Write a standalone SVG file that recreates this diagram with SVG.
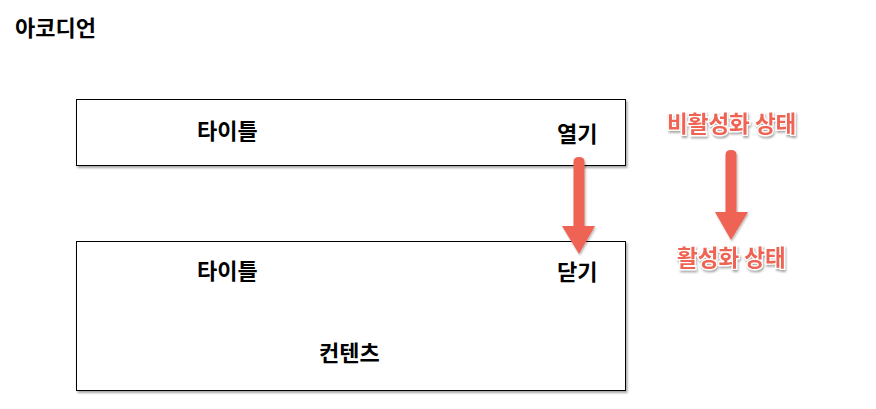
<svg xmlns="http://www.w3.org/2000/svg" width="876" height="409" viewBox="0 0 876 409">
<style>
.t{font-family:"Noto Sans CJK KR","Noto Sans",sans-serif;font-weight:bold;font-size:22px;fill:#000}
.r{font-family:"Noto Sans CJK KR","Noto Sans",sans-serif;font-weight:bold;font-size:22.5px;fill:#ee6352;stroke:#fff;stroke-width:2.5px;paint-order:stroke;filter:url(#ts)}
.box{fill:#fff;stroke:#000;stroke-width:1;filter:url(#bs)}
.arr{fill:#ee6352}
</style>
<defs>
<filter id="bs" x="-5%" y="-10%" width="110%" height="130%">
<feDropShadow dx="1.5" dy="2" stdDeviation="1" flood-color="#000" flood-opacity="0.35"/>
</filter>
<filter id="ts" x="-10%" y="-30%" width="120%" height="160%">
<feDropShadow dx="1" dy="2" stdDeviation="1" flood-color="#000" flood-opacity="0.35"/>
</filter>
<filter id="as" x="-50%" y="-10%" width="200%" height="130%">
<feDropShadow dx="1" dy="1.5" stdDeviation="1" flood-color="#000" flood-opacity="0.3"/>
</filter>
</defs>
<rect width="876" height="409" fill="#fff"/>
<text class="t" x="15" y="36">아코디언</text>
<g id="closed">
<rect class="box" x="76.5" y="99.5" width="549" height="66"/>
<text class="t" x="197" y="138.5">타이틀</text>
<text class="t" x="557" y="141.5">열기</text>
</g>
<g id="open">
<rect class="box" x="76.5" y="241.5" width="549" height="149"/>
<text class="t" x="197" y="278.5">타이틀</text>
<text class="t" x="557" y="280">닫기</text>
<text class="t" x="319" y="360.5">컨텐츠</text>
</g>
<g id="labels">
<text class="r" x="667" y="131.5">비활성화 상태</text>
<text class="r" x="677" y="266">활성화 상태</text>
</g>
<g id="connectors" filter="url(#as)">
<path class="arr" d="M573.5,162 Q573.5,157 579,157 Q584.5,157 584.5,162 L584.5,226 L595,226 L579,254 L562,226 L573.5,226 Z"/>
<path class="arr" d="M725.5,155 Q725.5,150 731,150 Q736.5,150 736.5,155 L736.5,212 L748,212 L731,240 L715,212 L725.5,212 Z"/>
</g>
</svg>
